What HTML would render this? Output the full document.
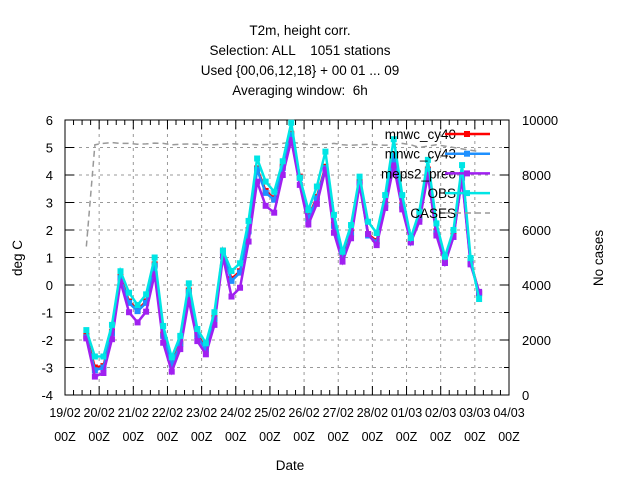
<!DOCTYPE html>
<html><head><meta charset="utf-8"><style>
body{margin:0;background:#fff;}
svg{display:block;font-family:"Liberation Sans",sans-serif;}
text{white-space:pre;}
</style></head><body>
<svg id="chart" width="640" height="480" xmlns="http://www.w3.org/2000/svg">
<g font-size="13.5" text-anchor="middle" fill="#000">
<text x="300" y="35">T2m, height corr.</text>
<text x="300" y="55">Selection: ALL    1051 stations</text>
<text x="300" y="75">Used {00,06,12,18} + 00 01 ... 09</text>
<text x="300" y="95">Averaging window:  6h</text>
</g>
<g id="grid"></g>
<g id="axes"></g>
<g id="series"></g>
<g id="legend"></g>
<text x="22" y="258" font-size="13.5" text-anchor="middle" transform="rotate(-90 22 258)">deg C</text>
<text x="603" y="258" font-size="13.5" text-anchor="middle" transform="rotate(-90 603 258)">No cases</text>
<text x="290" y="470" font-size="13.5" text-anchor="middle">Date</text>
</svg>
<script>
const dayLabels=["19/02","20/02","21/02","22/02","23/02","24/02","25/02","26/02","27/02","28/02","01/03","02/03","03/03","04/03"];
const yTicks=[-4,-3,-2,-1,0,1,2,3,4,5,6];
const y2Ticks=[0,2000,4000,6000,8000,10000];
const startDay=0.625, stepDay=0.25;
const obs=[-1.64,-2.6,-2.6,-1.45,0.5,-0.28,-0.73,-0.34,1.0,-1.49,-2.63,-1.85,0.06,-1.6,-2.12,-0.99,1.25,0.51,0.79,2.33,4.6,3.76,3.39,4.5,5.9,3.9,2.73,3.58,4.85,2.55,1.21,2.18,3.94,2.3,1.89,3.27,5.3,3.27,1.71,2.67,4.55,2.24,1.03,2.0,4.36,0.98,-0.51];
const cy40=[-1.85,-3.0,-2.95,-1.7,0.3,-0.6,-0.9,-0.6,0.75,-1.8,-2.85,-2.1,-0.2,-1.8,-2.3,-1.2,1.25,0.22,0.5,2.0,4.24,3.42,3.15,4.3,5.5,3.94,2.45,3.2,4.3,2.2,0.95,1.9,3.75,1.85,1.6,2.95,4.75,2.9,1.6,2.45,4.2,1.95,0.85,1.8,4.0,0.85,-0.3];
const cy43=[-1.9,-3.1,-3.0,-1.75,0.25,-0.65,-0.95,-0.65,0.7,-1.85,-2.9,-2.15,-0.25,-1.85,-2.35,-1.25,1.2,0.15,0.45,1.95,4.2,3.35,3.1,4.25,5.45,3.9,2.4,3.15,4.25,2.15,0.9,1.85,3.7,1.8,1.55,2.9,4.7,2.85,1.55,2.4,4.15,1.9,0.8,1.75,3.95,0.8,-0.3];
const meps=[-1.94,-3.33,-3.2,-1.97,0.12,-0.99,-1.36,-0.97,0.39,-2.1,-3.15,-2.33,-0.55,-2.04,-2.52,-1.45,1.03,-0.42,-0.1,1.58,3.76,2.88,2.63,4.0,5.27,3.64,2.2,2.95,4.2,1.9,0.85,1.7,3.65,1.85,1.45,2.8,4.35,2.75,1.55,2.3,4.0,1.8,0.8,1.75,3.9,0.75,-0.25];
const cases=[5400,9100,9150,9180,9150,9150,9120,9130,9160,9150,9100,9120,9130,9120,9100,9100,9120,9140,9120,9120,9100,9110,9120,9150,9200,9150,9100,9110,9120,9150,9100,9080,9100,9120,9100,9080,9100,9150,9100,9000,9050,9100,9050,9000,8950,8900,8850];
const L=65,R=509,T=120,B=395;
const NS="http://www.w3.org/2000/svg";
function xd(d){return L+(R-L)*d/13;}
function yv(v){return B-(v+4)/10*(B-T);}
function y2(v){return B-v/10000*(B-T);}
function mk(tag,attrs,parent){const e=document.createElementNS(NS,tag);for(const k in attrs)e.setAttribute(k,attrs[k]);parent.appendChild(e);return e;}
const grid=document.getElementById('grid'),axes=document.getElementById('axes'),ser=document.getElementById('series'),leg=document.getElementById('legend');
dayLabels.forEach((lab,i)=>{const x=xd(i);
 if(i>0&&i<13){const g=mk('line',{x1:x,x2:x,y1:T,y2:B,stroke:'#999','stroke-dasharray':'3,4'},grid);
 
 }
 const t1=mk('text',{x:x,y:417,'font-size':12.5,'text-anchor':'middle'},axes);t1.textContent=lab;
 
 
 const t2=mk('text',{x:x,y:441,'font-size':12.5,'text-anchor':'middle'},axes);t2.textContent='00Z';
 
 
});
for(let k=1;k<52;k++){const x=L+(R-L)*k/52;const big=k%4==0;const h=big?9:5;
 mk('line',{x1:x,x2:x,y1:B,y2:B-h,stroke:'#000'},axes);mk('line',{x1:x,x2:x,y1:T,y2:T+h,stroke:'#000'},axes);}
yTicks.forEach(v=>{const y=yv(v);
 if(v>-4&&v<6){const g=mk('line',{x1:L,x2:R,y1:y,y2:y,stroke:'#999','stroke-dasharray':'3,4'},grid);
 
 }
 mk('line',{x1:L,x2:L+9,y1:y,y2:y,stroke:'#000'},axes);
 const t=mk('text',{x:53,y:y+5,'font-size':13,'text-anchor':'end'},axes);t.textContent=v;
 
 });
y2Ticks.forEach(v=>{const y=y2(v);mk('line',{x1:R-9,x2:R,y1:y,y2:y,stroke:'#000'},axes);
 const t=mk('text',{x:522,y:y+5,'font-size':13,'text-anchor':'start'},axes);t.textContent=v;
 
 });
for(let k=1;k<10;k+=2){const y=y2(k*1000);mk('line',{x1:R-5,x2:R,y1:y,y2:y,stroke:'#000'},axes);}
const fr=mk('rect',{x:L,y:T,width:R-L,height:B-T,fill:'none',stroke:'#000'},axes);


function tx(i){return xd(startDay+i*stepDay);}
const cp=mk('polyline',{points:cases.map((v,i)=>tx(i)+','+y2(v)).join(' '),fill:'none',stroke:'#999','stroke-width':1.5,'stroke-dasharray':'6,4'},ser);


const S=[['mnwc_cy40',cy40,'#ff0000'],['mnwc_cy43',cy43,'#1e90ff'],['meps2_preo',meps,'#a020f0'],['OBS',obs,'#00e5e5']];
S.forEach((s,si)=>{const g=mk('g',{},ser);
 
 
 mk('polyline',{points:s[1].map((v,i)=>tx(i)+','+yv(v)).join(' '),fill:'none',stroke:s[2],'stroke-width':2.5},g);
 s[1].forEach((v,i)=>{const m=mk('rect',{x:tx(i)-3,y:yv(v)-3,width:6,height:6,fill:s[2]},g);
  
  });
 const ly=134+si*19.7;
 const t=mk('text',{x:456,y:ly+5,'font-size':13.5,'text-anchor':'end'},leg);t.textContent=s[0];
 
 
 mk('line',{x1:445,x2:490,y1:ly,y2:ly,stroke:s[2],'stroke-width':2.5},leg);
 mk('rect',{x:464,y:ly-3,width:6,height:6,fill:s[2]},leg);
});
const ct=mk('text',{x:456,y:218,'font-size':13.5,'text-anchor':'end'},leg);ct.textContent='CASES';


mk('line',{x1:445,x2:490,y1:213,y2:213,stroke:'#999','stroke-width':1.5,'stroke-dasharray':'6,4'},leg);
</script>
</body></html>
